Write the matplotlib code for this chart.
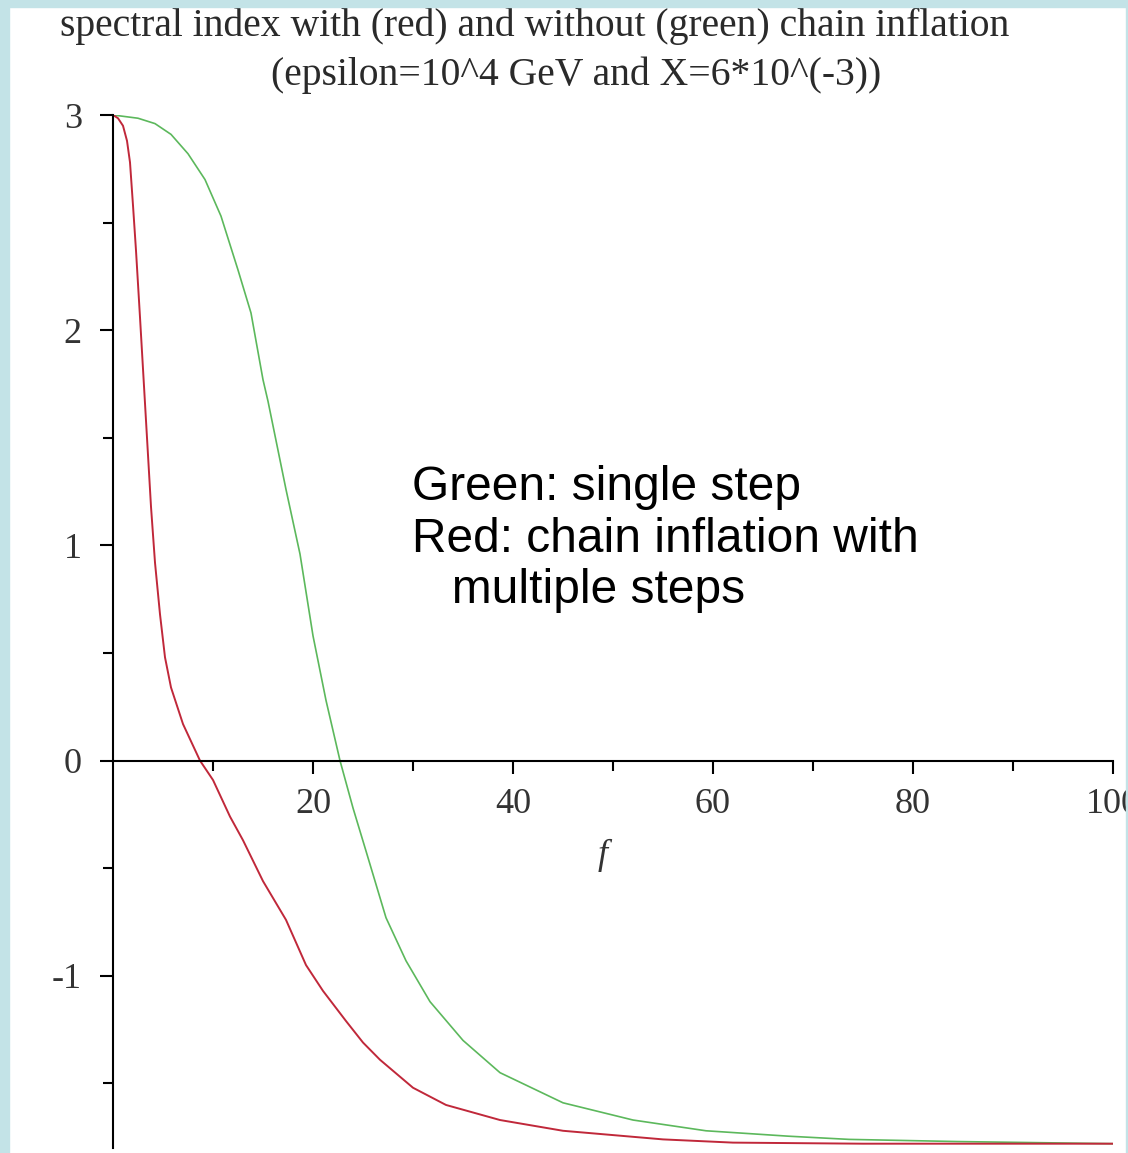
import matplotlib
matplotlib.use("Agg")
import matplotlib.pyplot as plt
from matplotlib.patches import Rectangle

# values (f, spectral index)
f_red = [0, 0.5, 1.0, 1.4, 1.7, 2.0, 2.3, 2.7, 3.0, 3.3, 3.8, 4.2, 4.7, 5.2, 5.8, 7.0, 8.7,
         10, 11.7, 13, 15, 17.3, 19.3, 21, 23.3, 25, 26.7, 30, 33.3, 38.7, 45, 55, 62, 75, 100]
n_red = [3.0, 2.985, 2.95, 2.88, 2.78, 2.58, 2.37, 2.06, 1.82, 1.58, 1.18, 0.92, 0.68, 0.48, 0.34, 0.17, 0.0,
         -0.09, -0.26, -0.37, -0.56, -0.74, -0.95, -1.07, -1.21, -1.31, -1.39, -1.52, -1.60, -1.67, -1.72,
         -1.76, -1.775, -1.78, -1.78]

f_green = [0, 2.5, 4.2, 5.8, 7.5, 9.2, 10.8, 12.5, 13.8, 15, 15.5, 17.3, 18.7, 20, 21.3, 22.7,
           24, 25.3, 27.3, 29.3, 31.7, 35, 38.7, 45, 52, 59.3, 67.5, 73.6, 84.4, 100]
n_green = [3.0, 2.985, 2.96, 2.91, 2.82, 2.70, 2.53, 2.28, 2.08, 1.77, 1.67, 1.26, 0.96, 0.58, 0.28, 0.0,
           -0.22, -0.42, -0.73, -0.93, -1.12, -1.30, -1.45, -1.59, -1.67, -1.72, -1.745, -1.76, -1.77, -1.78]

x_ticks = [20, 40, 60, 80, 100]
x_minor = [10, 30, 50, 70, 90]
y_ticks = [-1, 0, 1, 2, 3]
y_minor = [-1.5, -0.5, 0.5, 1.5, 2.5]
y_labels = ["-1", "0", "1", "2", "3"]

W, H = 1128, 1153
fig = plt.figure(figsize=(W / 100, H / 100), dpi=100, facecolor="white")
serif = "Liberation Serif"

ax = fig.add_axes([113 / W, 1 - 1148 / H, 1000 / W, (1148 - 115) / H])
ax.patch.set_alpha(0)
ax.plot(f_green, n_green, color="#5cb85c", lw=1.2)
ax.plot(f_red, n_red, color="#c0283a", lw=1.4)
ax.set_xlim(0, 100)
ax.set_ylim(-1.8, 3)

for s in ["top", "right"]:
    ax.spines[s].set_visible(False)
ax.spines["left"].set_position(("data", 0))
ax.spines["bottom"].set_position(("data", 0))
ax.spines["left"].set_linewidth(1.5)
ax.spines["bottom"].set_linewidth(1.5)

ax.set_xticks(x_ticks)
ax.set_xticks(x_minor, minor=True)
ax.set_yticks(y_ticks)
ax.set_yticks(y_minor, minor=True)
ax.set_yticklabels(y_labels)
ax.tick_params(which="major", direction="out", length=9.5, width=1.5, labelsize=26, pad=10)
ax.tick_params(which="minor", direction="out", length=7, width=1.5)
ax.tick_params(axis="y", which="major", pad=13)
for lab in ax.get_xticklabels() + ax.get_yticklabels():
    lab.set_family(serif)
    lab.set_color("#333333")

ax.text(49, -0.44, "f", family=serif, style="italic", fontsize=26, color="#333333",
        ha="center", va="center")

fig.text(412 / W, 1 - 465 / H, "Green: single step\nRed: chain inflation with\n   multiple steps",
         family="Liberation Sans", fontsize=34.5, linespacing=1.19, ha="left", va="top")

fig.text(535 / W, 1 - 26 / H, "spectral index with (red) and without (green) chain inflation",
         family=serif, fontsize=28.5, color="#2a2a2a", ha="center", va="center")
fig.text(576 / W, 1 - 75 / H, "(epsilon=10^4 GeV and X=6*10^(-3))",
         family=serif, fontsize=28.5, color="#2a2a2a", ha="center", va="center")

# light blue frame
border = "#c3e3e7"
fig.patches.append(Rectangle((0, 0), 9 / W, 1, transform=fig.transFigure, color=border, zorder=5))
fig.patches.append(Rectangle((0, 1 - 7 / H), 1, 7 / H, transform=fig.transFigure, color=border, zorder=5))
fig.patches.append(Rectangle((1126 / W, 0), 2 / W, 1, transform=fig.transFigure, color=border, zorder=5))

fig.savefig("out.png", dpi=100, facecolor="white")
